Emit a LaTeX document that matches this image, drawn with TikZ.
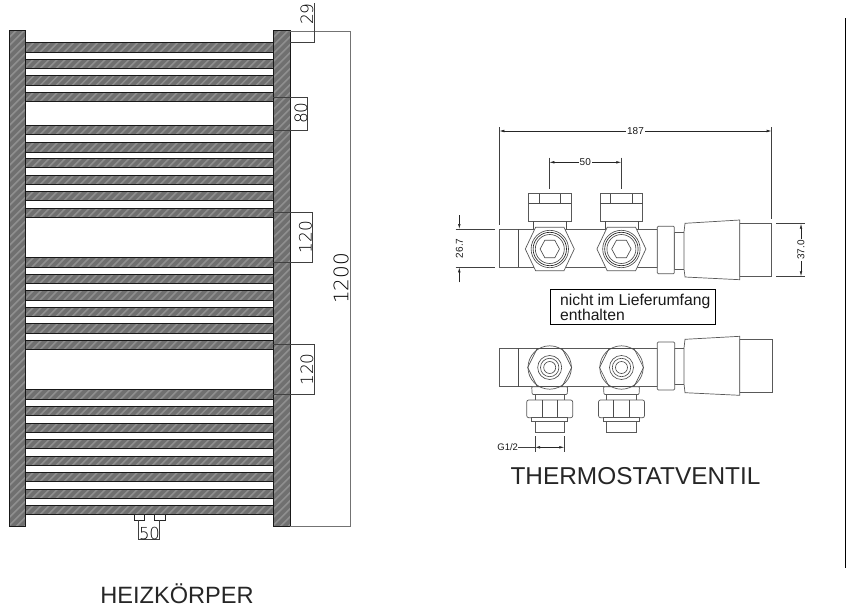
\documentclass[tikz,border=0pt]{standalone}
\usepackage{fontspec}
\setmainfont{Liberation Sans}
\newfontfamily\thinfont{DejaVu Sans ExtraLight}
\usetikzlibrary{arrows.meta}
\tikzset{
  x=1pt,y=-1pt,
  thinline/.style={draw=black!70,line width=0.65pt},
  dimline/.style={draw=black!75,line width=0.7pt},
  greyline/.style={draw=black!55,line width=0.9pt},
  smalltext/.style={font=\fontsize{10}{11}\selectfont,text=black!90,inner sep=1pt,fill=white},
  bigdim/.style={font=\thinfont\fontsize{17}{20}\selectfont,text=black,inner sep=0pt,rotate=90},
  titletext/.style={font=\fontsize{23.6}{26}\selectfont,text=black!85,inner sep=0pt},
  arr/.style={draw=black!85,line width=0.6pt,{Latex[length=5pt,width=2.6pt]}-{Latex[length=5pt,width=2.6pt]}},
  arrs/.style={draw=black!85,line width=0.6pt,-{Latex[length=5pt,width=2.6pt]}},
  partbox/.style={draw=black!65,line width=0.7pt,fill=white},
}
\newcommand{\hatched}[4]{%
  \begin{scope}
    \clip (#1,#2) rectangle (#3,#4);
    \fill[black!56] (#1,#2) rectangle (#3,#4);
    \foreach \k in {-520,-512,...,300}{
      \draw[black!44,line width=1.5pt] (\k,#4) -- ++(520,-520);
    }
  \end{scope}
  \draw[black!90,line width=0.8pt] (#1,#2) rectangle (#3,#4);
}
\newcommand{\radbar}[2]{\hatched{25.7}{#1}{273.3}{#2}}
\newcommand{\topvalve}[1]{%
  \begin{scope}[shift={(#1,249)}]
    \draw[partbox] (-21.3,-55.5) rectangle (21.3,-27.7);
    \draw[thinline] (-21.3,-45.5) -- (21.3,-45.5);
    \draw[thinline] (-10.8,-55.5) -- (-10.8,-45.5) (10.8,-55.5) -- (10.8,-45.5);
    \draw[thinline] (-16.5,-27.7) -- (-16.5,-20) (16.5,-27.7) -- (16.5,-20);
    \draw[partbox] (-14.2,-21.7) -- (14.2,-21.7) -- (24.5,0) -- (14.2,21.7) -- (-14.2,21.7) -- (-24.5,0) -- cycle;
    \draw[thinline] (0,0) circle[radius=18.7];
    \draw[thinline,draw=black!85] (0,0) circle[radius=16.7];
    \draw[thinline] (0,0) circle[radius=14.5];
    \draw[thinline] (-5,-8.7) -- (5,-8.7) -- (9.7,0) -- (5,8.7) -- (-5,8.7) -- (-9.7,0) -- cycle;
  \end{scope}
}
\newcommand{\lowvalve}[1]{%
  \begin{scope}[shift={(#1,367.5)}]
    \draw[partbox,rounded corners=1pt] (-18,19.2) -- (18,19.2) -- (17.5,27) -- (-17.5,27) -- cycle;
    \draw[partbox] (-14.7,27) rectangle (14.7,32.5);
    \draw[partbox,rounded corners=2pt] (-23,32.5) rectangle (23,50.2);
    \draw[thinline] (-7.7,32.5) -- (-7.7,50.2) (7.7,32.5) -- (7.7,50.2);
    \draw[partbox] (-18,50.2) rectangle (18,54.2);
    \draw[partbox] (-14.7,54.2) rectangle (14.7,64.8);
    \draw[partbox] (0,0) circle[radius=21.7];
    \draw[thinline] (-12.5,-19) -- (12.5,-19) -- (22,0) -- (12.5,19) -- (-12.5,19) -- (-22,0) -- cycle;
    \draw[thinline] (0,0) circle[radius=12];
    \draw[thinline] (0,0) circle[radius=9.2];
    \draw[thinline] (0,0) circle[radius=6];
  \end{scope}
}
\begin{document}
\begin{tikzpicture}
\useasboundingbox (0,0) rectangle (853,608);
\fill[white] (0,0) rectangle (853,608);
% radiator
\foreach \a/\b in {42.5/52.3,59.3/68.7,75.6/85.6,92.3/101.7,125.3/134.7,142/152,158.3/167.7,175/184.7,191.3/200.7,208.3/217.7,257/267,274/283.3,290/300,307.3/316.7,323.7/333.3,340.3/349.7,389.7/399.7,406.3/415.3,423/432.7,439.3/448.7,456.3/465.7,472.3/481.7,489/498.7,505.3/514.7}{
  \radbar{\a}{\b}
}
\hatched{9}{30.5}{25.7}{526.7}
\hatched{273.3}{30.5}{290}{526.7}
% radiator dimensions
\draw[greyline] (290,31) -- (350.7,31) -- (350.7,526.7) -- (290,526.7);
\draw[dimline] (290,42.7) -- (314.3,42.7) -- (314.3,3);
\draw[dimline] (273.3,97) -- (307.3,97) -- (307.3,130) -- (273.3,130);
\draw[dimline] (273.3,212) -- (312,212) -- (312,262.3) -- (273.3,262.3);
\draw[dimline] (273.3,344.3) -- (314.3,344.3) -- (314.3,394.3) -- (273.3,394.3);
\node[bigdim] (d29) at (307,14) {29};
\node[bigdim] (d80) at (301,113) {80};
\node[bigdim] (d120a) at (305.5,237) {120};
\node[bigdim] (d120b) at (307,369.5) {120};
\node[bigdim,font=\thinfont\fontsize{20}{22}\selectfont] (d1200) at (341,278.5) {1200};
% inlets
\draw[black!85,line width=0.9pt,fill=white] (134,514.7) rectangle (144.3,520);
\draw[black!85,line width=0.9pt,fill=white] (154.7,514.7) rectangle (165,520);
\draw[dimline] (138.3,520) -- (138.3,539.3) -- (159.7,539.3) -- (159.7,520);
\node[font=\thinfont\fontsize{16.5}{18}\selectfont,text=black,inner sep=0pt] (d50) at (149.5,533.2) {50};
\node[titletext] (heiz) at (177,593.5) {HEIZKÖRPER};
% separator
\draw[black,line width=1pt] (845.3,18) -- (845.3,568);
% top valve view
\draw[partbox] (499.3,229) rectangle (657.3,267.3);
\draw[thinline] (518.3,229) -- (518.3,267.3);
\topvalve{549.8}
\topvalve{621.4}
\draw[partbox] (674.3,232.3) rectangle (685,269);
\draw[partbox,rounded corners=1pt] (657.3,226.3) rectangle (674.3,273.7);
\draw[partbox] (739.7,223.7) rectangle (771.7,276.3);
\draw[partbox] (685,223.3) -- (739.7,220) -- (739.7,279.7) -- (685,277) -- (684,269) -- (684,232) -- cycle;
% top view dimensions
\draw[dimline] (499.3,127) -- (499.3,225);
\draw[dimline] (771.7,127) -- (771.7,219);
\draw[arr] (499.3,131) -- node[smalltext] (d187) {187} (771.7,131);
\draw[dimline] (549.3,157.7) -- (549.3,189);
\draw[dimline] (621.3,157.7) -- (621.3,189);
\draw[arr] (549.3,162.3) -- node[smalltext] (d50b) {50} (621.3,162.3);
\draw[dimline] (455.7,229) -- (495,229);
\draw[dimline] (455.7,267.3) -- (495,267.3);
\draw[arrs] (459.3,215) -- (459.3,229);
\draw[arrs] (459.3,282.3) -- (459.3,267.3);
\node[smalltext,rotate=90,fill=none] (d267) at (459.3,248.3) {26.7};
\draw[dimline] (776,223.7) -- (805,223.7);
\draw[dimline] (776,276.3) -- (805,276.3);
\draw[arr] (801,223.7) -- node[smalltext,rotate=90] (d370) {37.0} (801,276.3);
% note
\node[draw=black,line width=0.9pt,fill=white,minimum width=165.4pt,minimum height=35pt,inner sep=0pt] (note) at (633,306.8) {};
\node[anchor=west,inner sep=0pt,font=\fontsize{15.7}{15.7}\selectfont,text=black!90,align=left] (notetext) at (560,307.5) {nicht im Lieferumfang\\enthalten};
% lower valve view
\draw[partbox] (499,348.3) rectangle (657.3,386.7);
\draw[thinline] (518.3,348.3) -- (518.3,386.7);
\lowvalve{549.7}
\lowvalve{621.5}
\draw[partbox] (674.7,348) rectangle (685,384);
\draw[partbox,rounded corners=1pt] (657.3,342) rectangle (674.7,390);
\draw[partbox] (739.7,339.3) rectangle (772,392.3);
\draw[partbox] (685,339.3) -- (739.7,336.3) -- (739.7,395.3) -- (685,392.7) -- (684,384) -- (684,348) -- cycle;
% lower dimension
\draw[dimline] (535,436) -- (535,451.7);
\draw[dimline] (564.3,436) -- (564.3,451.7);
\draw[arr] (535,447.3) -- (564.3,447.3);
\node[font=\fontsize{9.5}{10}\selectfont,text=black!90,inner sep=0pt] (g12) at (507.7,447.3) {G1/2};
\draw[dimline] (g12.east) -- (535,447.3);
\node[titletext,font=\fontsize{24.4}{26}\selectfont] (thermo) at (635.5,476.5) {THERMOSTATVENTIL};
\end{tikzpicture}
\end{document}
